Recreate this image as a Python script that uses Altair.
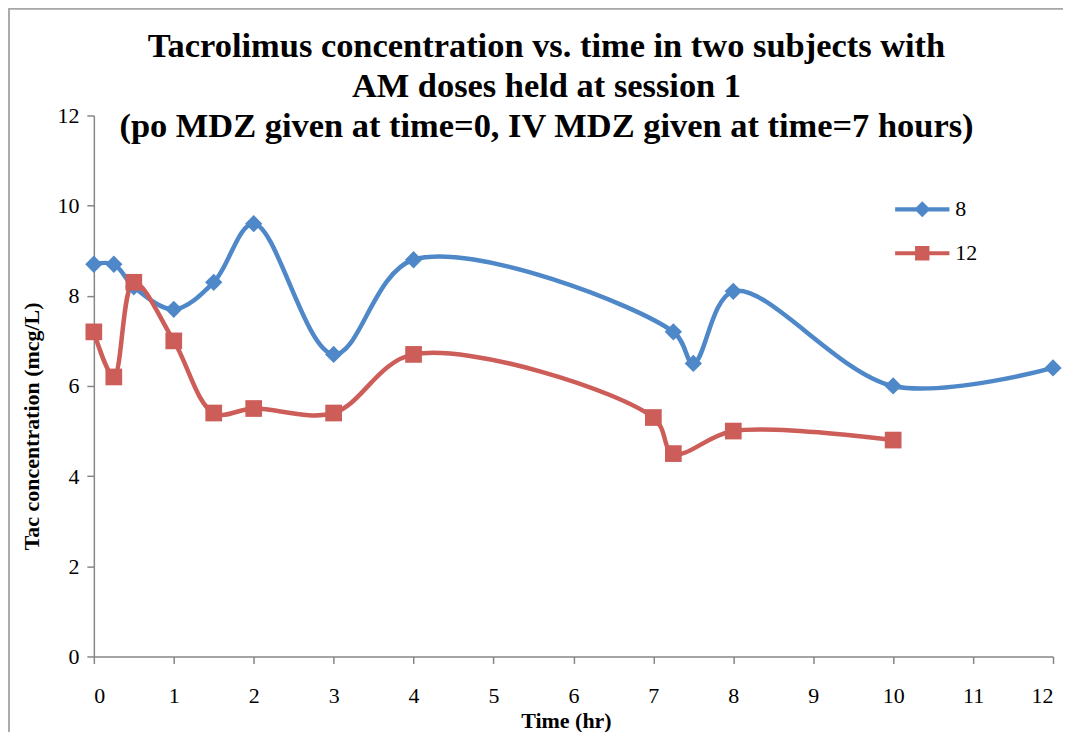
import altair as alt
import pandas as pd

# Data
time_8 = [0, 0.25, 0.5, 1, 1.5, 2, 3, 4, 7.25, 7.5, 8, 10, 12]
conc_8 = [8.7, 8.7, 8.2, 7.7, 8.3, 9.6, 6.7, 8.8, 7.2, 6.5, 8.1, 6.0, 6.4]
time_12 = [0, 0.25, 0.5, 1, 1.5, 2, 3, 4, 7, 7.25, 8, 10]
conc_12 = [7.2, 6.2, 8.3, 7.0, 5.4, 5.5, 5.4, 6.7, 5.3, 4.5, 5.0, 4.8]
series_names = ["8", "12"]
x_ticks = list(range(0, 13))
y_ticks = [0, 2, 4, 6, 8, 10, 12]

colors = ["#4F88C8", "#CD5D59"]
FONT = "Liberation Serif"

df = pd.DataFrame(
    {"time": time_8 + time_12,
     "conc": conc_8 + conc_12,
     "series": ["8"] * len(time_8) + ["12"] * len(time_12)}
)

color_scale = alt.Scale(domain=series_names, range=colors)

x_enc = alt.X(
    "time:Q",
    scale=alt.Scale(domain=[0, 12], nice=False, zero=False),
    axis=alt.Axis(values=x_ticks, format="d", title="Time (hr)",
                  titleX=473, titleY=71, titleBaseline="alphabetic",
                  titleAlign="center"),
)
y_enc = alt.Y(
    "conc:Q",
    scale=alt.Scale(domain=[0, 12], nice=False),
    axis=alt.Axis(values=y_ticks, title="Tac concentration (mcg/L)",
                  titleX=-62, titleY=311, titleAngle=-90,
                  titleAlign="center", titleBaseline="middle"),
)

lines = alt.Chart(df).mark_line(interpolate="catmull-rom", strokeWidth=4.5).encode(
    x=x_enc, y=y_enc,
    color=alt.Color("series:N", scale=color_scale, legend=None),
    detail="series:N",
)

points = alt.Chart(df).mark_point(filled=True, opacity=1).encode(
    x=x_enc, y=y_enc,
    color=alt.Color("series:N", scale=color_scale, legend=None),
    shape=alt.Shape("series:N", scale=alt.Scale(domain=series_names, range=["diamond", "square"]), legend=None),
    size=alt.Size("series:N", scale=alt.Scale(domain=series_names, range=[300, 280]), legend=None),
)

# legend symbols: line with marker
path_diamond = ("M-1.7,-0.13H1.7V0.13H-1.7Z "
                "M0,-0.5L0.5,0L0,0.5L-0.5,0Z")
path_square = ("M-1.7,-0.13H1.7V0.13H-1.7Z "
               "M-0.45,-0.45H0.45V0.45H-0.45Z")

leg = alt.Legend(title=None, orient="none", legendX=814, legendY=78,
                 symbolSize=1024, symbolOpacity=1, symbolStrokeWidth=0,
                 labelOffset=17, rowPadding=17, padding=0,
                 labelFont=FONT, labelFontSize=22, labelColor="#000000")

legend_df = pd.DataFrame({"time": [0, 0], "conc": [0, 0], "lg": series_names})
legend_layer = alt.Chart(legend_df).mark_point(filled=True, opacity=0).encode(
    x=alt.X("time:Q"), y=alt.Y("conc:Q"),
    color=alt.Color("lg:N", scale=alt.Scale(domain=series_names, range=colors), legend=leg),
    shape=alt.Shape("lg:N", scale=alt.Scale(domain=series_names, range=[path_diamond, path_square]),
                    legend=leg),
)

border = alt.Chart(legend_df).mark_rect(fill=None, stroke="#A6A6A6", strokeWidth=1.5).encode(
    x=alt.value(-85), x2=alt.value(1200), y=alt.value(-107), y2=alt.value(900)
)

chart = alt.layer(border, lines, points, legend_layer).resolve_scale(
    shape="independent", color="independent"
).properties(
    width=961,
    height=542,
    padding={"left": 86, "top": 107, "right": 10, "bottom": 75},
    autosize=alt.AutoSizeParams(type="none"),
    background="white",
    title=alt.TitleParams(
        text=["Tacrolimus concentration vs. time in two subjects with",
              "AM doses held at session 1",
              "(po MDZ given at time=0, IV MDZ given at time=7 hours)"],
        font=FONT, fontSize=34.5, fontWeight="bold", color="#000000",
        lineHeight=40, anchor="middle", offset=-137, dx=-27,
    ),
).configure_view(
    stroke=None
).configure_axis(
    grid=False,
    domainColor="#868686", domainWidth=1.5,
    tickColor="#868686", tickWidth=1.5, tickSize=7,
    labelFont=FONT, labelFontSize=22, labelColor="#000000",
    titleFont=FONT, titleFontSize=22, titleFontWeight="bold", titleColor="#000000",
).configure_axisX(
    labelPadding=22,
).configure_axisY(
    labelPadding=8,
)

chart.save("out.html", embed_options={"renderer": "svg", "actions": False})
